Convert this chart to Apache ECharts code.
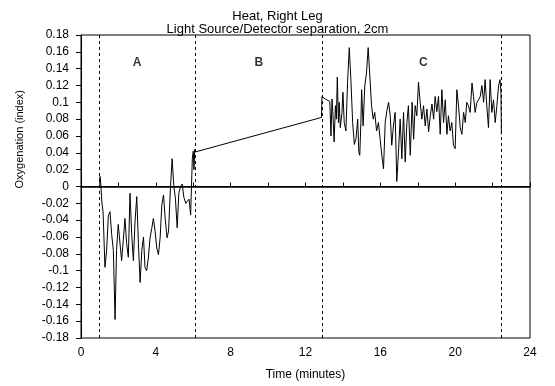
<!DOCTYPE html>
<html>
<head>
<meta charset="utf-8">
<script src="https://cdn.jsdelivr.net/npm/echarts@6/dist/echarts.min.js"></script>
<style>
  html, body { margin: 0; padding: 0; background: #fff; }
  #chart { width: 555px; height: 386px; }
</style>
</head>
<body>
<div id="chart"></div>
<script>
// time in minutes, oxygenation index
const timeMin = [
  // phase A
  1.00, 1.02, 1.06, 1.12, 1.18, 1.28, 1.37, 1.46, 1.55, 1.64, 1.73, 1.82, 1.90, 1.99,
  2.08, 2.17, 2.26, 2.35, 2.44, 2.53, 2.62, 2.71, 2.80, 2.89, 2.98, 3.07, 3.16, 3.25,
  3.34, 3.42, 3.51, 3.60, 3.69, 3.78, 3.87, 3.96, 4.05, 4.14, 4.23, 4.32, 4.41, 4.50,
  4.60, 4.68, 4.78, 4.87, 4.96, 5.05, 5.14, 5.23, 5.32, 5.41, 5.50, 5.60, 5.69, 5.78,
  5.86, 5.95, 6.00, 6.04, 6.08,
  // phase B
  6.10, 12.85, 12.88,
  // phase C
  13.05, 13.30, 13.36, 13.42, 13.47, 13.53, 13.60, 13.65, 13.70, 13.76, 13.80, 13.86,
  13.95, 14.00, 14.07, 14.16, 14.25, 14.34, 14.43, 14.52, 14.61, 14.70, 14.79, 14.85,
  14.90, 14.96, 15.00, 15.08, 15.17, 15.26, 15.35, 15.44, 15.53, 15.62, 15.70, 15.80,
  15.90, 15.99, 16.08, 16.17, 16.26, 16.35, 16.44, 16.53, 16.61, 16.70, 16.79, 16.88,
  16.97, 17.06, 17.15, 17.24, 17.33, 17.42, 17.50, 17.60, 17.70, 17.78, 17.86, 17.95,
  18.04, 18.13, 18.22, 18.31, 18.40, 18.49, 18.58, 18.67, 18.76, 18.85, 18.93, 19.02,
  19.11, 19.20, 19.29, 19.38, 19.47, 19.56, 19.64, 19.73, 19.82, 19.91, 20.00, 20.09,
  20.18, 20.27, 20.36, 20.45, 20.54, 20.62, 20.71, 20.80, 20.90, 20.98, 21.07, 21.16,
  21.25, 21.34, 21.43, 21.52, 21.60, 21.69, 21.78, 21.87, 21.96, 22.05, 22.14, 22.23,
  22.32, 22.40, 22.45, 22.47
];
const oxyIndex = [
  0.000, 0.012, 0.002, -0.020, -0.030, -0.096, -0.076, -0.035, -0.030, -0.057, -0.076, -0.158, -0.076, -0.045,
  -0.047, -0.088, -0.064, -0.038, -0.068, -0.084, -0.008, -0.057, -0.088, -0.041, -0.012, -0.068, -0.114, -0.076,
  -0.060, -0.096, -0.100, -0.085, -0.061, -0.050, -0.038, -0.053, -0.073, -0.081, -0.061, -0.022, -0.010, -0.038,
  -0.061, -0.053, -0.002, 0.033, 0.001, -0.015, -0.049, -0.008, 0.000, 0.003, -0.013, -0.020, -0.022, -0.015,
  -0.034, 0.033, 0.042, 0.020, 0.044,
  0.041, 0.082, 0.107,
  0.104, 0.101, 0.060, 0.104, 0.084, 0.053, 0.096, 0.080, 0.130, 0.076, 0.100, 0.070,
  0.088, 0.112, 0.076, 0.066, 0.125, 0.165, 0.125, 0.076, 0.050, 0.057, 0.080, 0.041,
  0.037, 0.076, 0.115, 0.072, 0.120, 0.135, 0.165, 0.131, 0.096, 0.080, 0.088, 0.066,
  0.076, 0.056, 0.037, 0.021, 0.076, 0.090, 0.100, 0.084, 0.049, 0.072, 0.088, 0.006,
  0.041, 0.080, 0.033, 0.088, 0.029, 0.076, 0.096, 0.037, 0.100, 0.056, 0.096, 0.084,
  0.124, 0.100, 0.080, 0.096, 0.072, 0.092, 0.065, 0.084, 0.098, 0.080, 0.107, 0.089,
  0.107, 0.062, 0.115, 0.076, 0.103, 0.062, 0.084, 0.066, 0.076, 0.049, 0.045, 0.115,
  0.096, 0.070, 0.062, 0.088, 0.076, 0.100, 0.096, 0.088, 0.123, 0.107, 0.088, 0.100,
  0.103, 0.107, 0.120, 0.100, 0.127, 0.096, 0.070, 0.127, 0.088, 0.103, 0.076, 0.096,
  0.120, 0.127, 0.110, 0.062
];

// phase boundaries (dashed lines) and phase labels
const phaseBounds = [1.0, 6.1, 12.9, 22.45];
const phaseNames = ["A", "B", "C"];
const phaseLabelTime = [3.0, 9.5, 18.3];
const phaseLabelY = 0.147;

const font = "'Liberation Sans', Arial, sans-serif";
const chart = echarts.init(document.getElementById("chart"));

const option = {
  animation: false,
  backgroundColor: "#fff",
  title: {
    text: "Heat, Right Leg\nLight Source/Detector separation, 2cm",
    left: "center",
    top: 5,
    textStyle: {
      fontFamily: font,
      fontSize: 13,
      fontWeight: "normal",
      color: "#000",
      lineHeight: 13,
    },
  },
  grid: {
    left: 81,
    right: 25,
    top: 35,
    bottom: 44,
    show: true,
    borderColor: "#000",
    borderWidth: 1,
  },
  xAxis: {
    type: "value",
    min: 0,
    max: 24,
    interval: 4,
    name: "Time (minutes)",
    nameLocation: "middle",
    nameGap: 31,
    nameTextStyle: { fontFamily: font, fontSize: 12, color: "#000" },
    axisLine: { lineStyle: { color: "#000", width: 1.5 } },
    axisTick: { inside: true, length: 4, lineStyle: { color: "#000" } },
    minorTick: { show: true, splitNumber: 2, length: 4, lineStyle: { color: "#000" } },
    axisLabel: { fontFamily: font, fontSize: 12, color: "#000", margin: 9 },
    splitLine: { show: false },
  },
  yAxis: {
    type: "value",
    min: -0.18,
    max: 0.18,
    interval: 0.02,
    axisLine: { show: true, lineStyle: { color: "#000", width: 1 } },
    axisTick: { length: 5, lineStyle: { color: "#000" } },
    axisLabel: {
      fontFamily: font,
      fontSize: 12,
      color: "#000",
      margin: 12,
      formatter: (v) => String(+v.toFixed(2)),
    },
    splitLine: { show: false },
  },
  graphic: [
    {
      type: "text",
      left: 14,
      top: 90,
      rotation: Math.PI / 2,
      style: {
        text: "Oxygenation (index)",
        font: "11px " + font,
        fill: "#000",
      },
    },
  ],
  series: [
    {
      name: "Oxygenation",
      type: "line",
      data: timeMin.map((t, i) => [t, oxyIndex[i]]),
      showSymbol: false,
      lineStyle: { color: "#000", width: 1 },
      markLine: {
        silent: true,
        symbol: "none",
        label: { show: false },
        data: [
          { yAxis: 0, lineStyle: { color: "#000", type: "solid", width: 1.2 } },
          ...phaseBounds.map((t) => ({
            xAxis: t,
            lineStyle: { color: "#000", type: [3, 3], width: 1 },
          })),
        ],
      },
    },
    {
      name: "Phase",
      type: "scatter",
      symbolSize: 0,
      data: phaseNames.map((n, i) => ({ name: n, value: [phaseLabelTime[i], phaseLabelY] })),
      label: {
        show: true,
        position: "inside",
        formatter: "{b}",
        fontFamily: font,
        fontSize: 12,
        fontWeight: "bold",
        color: "#000",
      },
    },
  ],
};

chart.setOption(option);
</script>
</body>
</html>
